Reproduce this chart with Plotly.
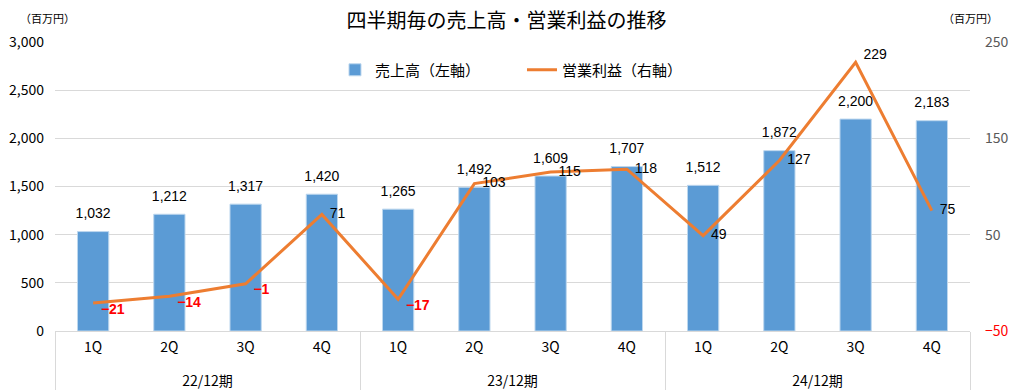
import plotly.graph_objects as go

periods = ["22/12期"] * 4 + ["23/12期"] * 4 + ["24/12期"] * 4
quarters = ["1Q", "2Q", "3Q", "4Q"] * 3
sales = [1032, 1212, 1317, 1420, 1265, 1492, 1609, 1707, 1512, 1872, 2200, 2183]
op_income = [-21, -14, -1, 71, -17, 103, 115, 118, 49, 127, 229, 75]

left_ticks = [0, 500, 1000, 1500, 2000, 2500, 3000]
right_ticks = [-50, 50, 150, 250]

JP = "Noto Sans CJK JP"
LAT = "Liberation Sans, Arial"
# small invisible second line on quarter labels pushes the period labels lower
q_labels = [q + "<br><span style='font-size:5px'> </span>" for q in quarters]
x = [periods, q_labels]

def fmt_minus(v):
    return ("\u2212" + str(abs(v))) if v < 0 else str(v)

fig = go.Figure()
fig.add_trace(go.Bar(
    x=x, y=sales, name="売上高（左軸）",
    marker=dict(color="#5B9BD5", line=dict(color="#BDD7EE", width=1)),
    width=0.41, yaxis="y",
))
# bar value labels (invisible markers give the text some lift above the bar top)
fig.add_trace(go.Scatter(
    x=x, y=sales, mode="markers+text", showlegend=False, hoverinfo="skip",
    marker=dict(size=14, opacity=0),
    text=[f"{v:,}" for v in sales], textposition="top center",
    textfont=dict(family=LAT, size=14, color="black"),
    cliponaxis=False, yaxis="y",
))
fig.add_trace(go.Scatter(
    x=x, y=op_income, name="営業利益（右軸）", mode="lines+text",
    line=dict(color="#ED7D31", width=3),
    text=["&nbsp;&nbsp;" + (("<b>" + fmt_minus(v) + "</b>") if v < 0 else fmt_minus(v)) for v in op_income],
    textposition=["bottom right" if v < 0 else ("top right" if v > 200 else "middle right") for v in op_income],
    textfont=dict(family=LAT, size=14,
                  color=["#FF0000" if v < 0 else "black" for v in op_income]),
    cliponaxis=False, yaxis="y2",
))

fig.update_layout(
    width=1013, height=390,
    margin=dict(l=55, r=43, t=42, b=59),
    paper_bgcolor="white", plot_bgcolor="white",
    title=dict(text="四半期毎の売上高・営業利益の推移", x=0.5, xanchor="center",
               y=1 - 21 / 390, yanchor="middle",
               font=dict(family=JP, size=20, color="black")),
    legend=dict(orientation="h", x=0.306, xanchor="left", y=0.903, yanchor="middle",
                bgcolor="white", font=dict(family=JP, size=15, color="black"),
                itemwidth=30, entrywidth=142, entrywidthmode="pixels", tracegroupgap=0),
    xaxis=dict(type="multicategory", range=[-0.5, 11.5], showline=True, linecolor="#D9D9D9",
               showdividers=True, dividercolor="#D9D9D9", dividerwidth=1,
               tickfont=dict(family=JP, size=14, color="black"), ticks="",
               automargin=False, ticklabelstandoff=3),
    yaxis=dict(range=[0, 3000], tickvals=left_ticks,
               ticktext=[f"{v:,}" for v in left_ticks],
               showgrid=True, gridcolor="#D9D9D9", zeroline=False,
               tickfont=dict(family=JP, size=14, color="black"),
               automargin=False, ticklabelstandoff=10),
    yaxis2=dict(range=[-50, 250], tickvals=right_ticks, overlaying="y", side="right",
                ticktext=[('<span style="color:#FF0000">' + "\u2212" + str(abs(v)) + "</span>") if v < 0 else str(v) for v in right_ticks],
                showgrid=False, zeroline=False,
                tickfont=dict(family=JP, size=14, color="#595959"),
                automargin=False, ticklabelstandoff=14),
    annotations=[
        dict(text="（百万円）", xref="paper", yref="paper", x=-0.0077, y=1.083,
             xanchor="center", yanchor="middle", showarrow=False,
             font=dict(family=JP, size=11, color="black")),
        dict(text="（百万円）", xref="paper", yref="paper", x=1.001, y=1.083,
             xanchor="center", yanchor="middle", showarrow=False,
             font=dict(family=JP, size=11, color="black")),
    ],
)

fig.write_html("out.html", config={"displayModeBar": False},
               post_script="document.body.style.margin='0';document.body.style.overflow='hidden';")
